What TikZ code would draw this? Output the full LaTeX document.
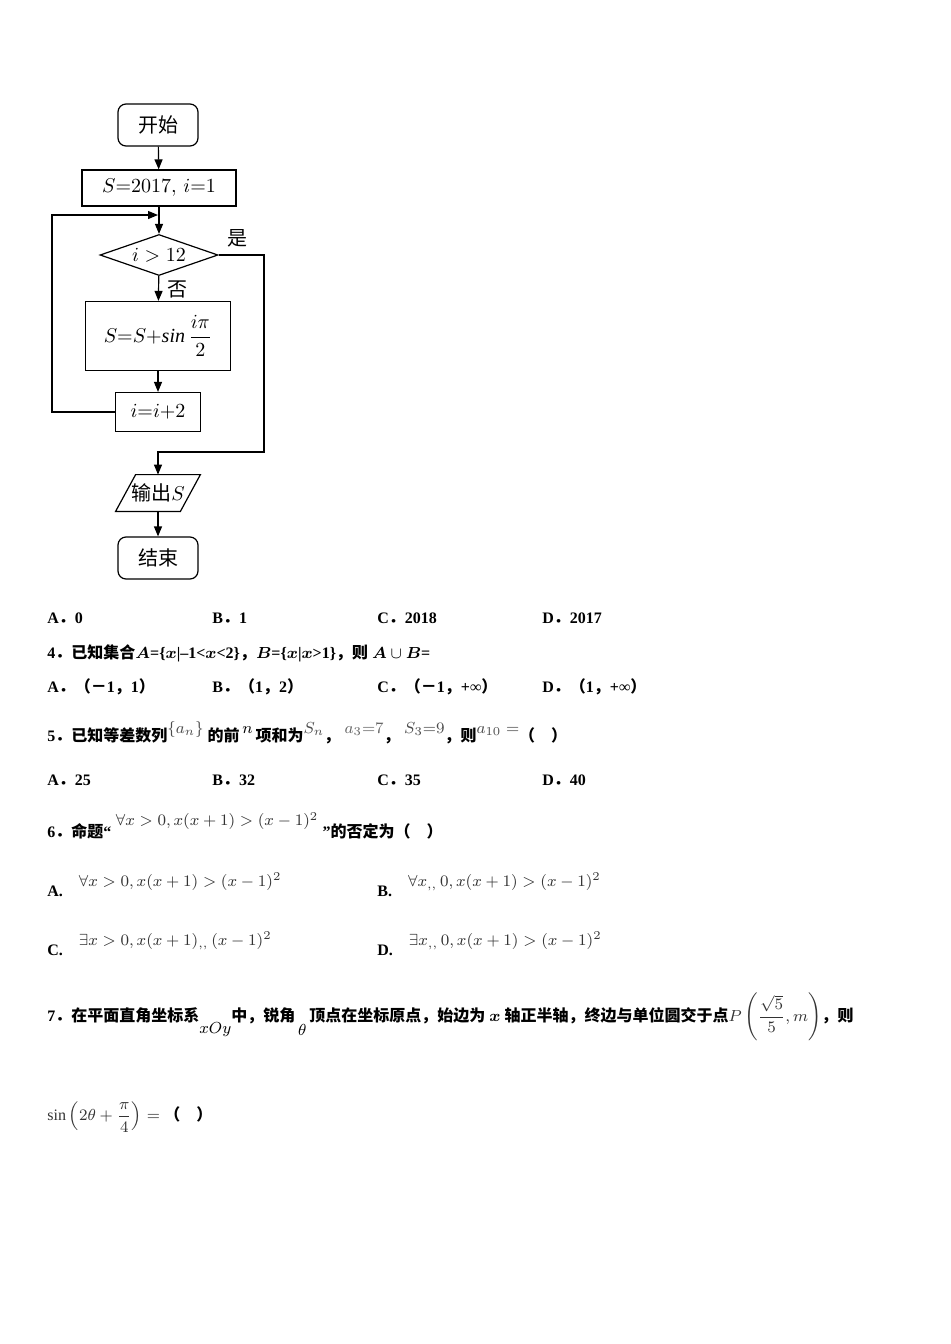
\documentclass[tikz,border=0pt]{standalone}
\usepackage{amsmath}
\usepackage{fontspec}
\setmainfont{Liberation Serif}
\newfontfamily\cjk{Noto Sans CJK SC}
\newfontfamily\cjkb{Noto Sans CJK SC Bold}
\usetikzlibrary{shapes.geometric,arrows.meta}
\newcommand{\C}[1]{{\cjkb #1}}
\begin{document}
\begin{tikzpicture}[x=0.5pt,y=-0.5pt,
  every node/.style={font=\fontsize{8}{9}\selectfont\bfseries, inner sep=0pt},
  box/.style={draw, line width=0.6pt, font=\fontsize{10}{11}\selectfont, minimum height=18pt},
  arr/.style={-{Triangle[length=5pt,width=4pt]}, line width=0.6pt},
  ln/.style={line width=0.6pt},
  q/.style={anchor=west}]
\useasboundingbox (0,0) rectangle (950,1344);
% flowchart
\node[box, rounded corners=4pt, minimum width=40pt, minimum height=21pt] (start) at (158,125) {\cjk 开始};
\node[box, minimum width=77pt] (init) at (159,188) {$S{=}2017,\,i{=}1$};
\node[draw, diamond, aspect=2.4, line width=0.6pt, minimum width=59pt, minimum height=20.5pt, font=\fontsize{10}{11}\selectfont] (cond) at (159,255) {$i>12$};
\node[box, minimum width=72.5pt, minimum height=34.5pt] (upd) at (158,336) {$S{=}S{+}\mathit{sin}\,\dfrac{i\pi}{2}$};
\node[box, minimum width=42.5pt, minimum height=19.5pt] (inc) at (158,412) {$i{=}i{+}2$};
\node[minimum width=42pt, minimum height=18pt, font=\fontsize{10}{11}\selectfont] (out) at (158,493) {{\cjk 输出}$S$};
\draw[ln] ([xshift=10pt]out.north west) -- (out.north east) -- ([xshift=-10pt]out.south east) -- (out.south west) -- cycle;
\node[box, rounded corners=4pt, minimum width=40pt, minimum height=21pt] (end) at (158,558) {\cjk 结束};
\coordinate (loop) at (158,215);
\draw[arr] (start) -- (init);
\draw[arr] (init) -- (cond);
\draw[arr] (cond) -- (upd);
\draw[arr] (upd) -- (inc);
\draw[arr] (inc.west) -- (52,412) -- (52,215) -- (loop);
\draw[arr] (cond.east) -- (264,255) -- (264,452) -- (158,452) -- (out);
\draw[arr] (out) -- (end);
\node[font=\fontsize{10}{11}\selectfont] (yes) at (237,238) {\cjk 是};
\node[font=\fontsize{10}{11}\selectfont] (no) at (177,289) {\cjk 否};
% options Q3
\node[q] (a3) at (47,618) {A\C{．}0};
\node[q] (b3) at (212,618) {B\C{．}1};
\node[q] (c3) at (377,618) {C\C{．}2018};
\node[q] (d3) at (542,618) {D\C{．}2017};
% Q4
\node[q] (q4) at (47,653) {4\C{．已知集合}$\boldsymbol{A}$=\{$\boldsymbol{x}$|–1<$\boldsymbol{x}$<2\}\C{，}$\boldsymbol{B}$=\{$\boldsymbol{x}$|$\boldsymbol{x}$>1\}\C{，则} $\boldsymbol{A}\cup\boldsymbol{B}$=};
\node[q] (a4) at (47,687) {A\C{．（－}1\C{，}1\C{）}};
\node[q] (b4) at (212,687) {B\C{．（}1\C{，}2\C{）}};
\node[q] (c4) at (377,687) {C\C{．（－}1\C{，}+∞\C{）}};
\node[q] (d4) at (542,687) {D\C{．（}1\C{，}+∞\C{）}};
% Q5
\node[q] (q5) at (47,733) {5\C{．已知等差数列}\raisebox{4pt}{\mdseries\color{black!70}$\{a_n\}$} \C{的前}\raisebox{4pt}{\mdseries$\,n\,$}\C{项和为}\raisebox{4pt}{\mdseries\color{black!70}$S_n$}\C{，}\;\raisebox{4pt}{\mdseries\color{black!60}$a_3{=}7$}\C{，}\;\raisebox{4pt}{\mdseries\color{black!70}$S_3{=}9$}\C{，则}\raisebox{4pt}{\mdseries\color{black!70}$a_{10}=$}\C{（\quad ）}};
\node[q] (a5) at (47,780) {A\C{．}25};
\node[q] (b5) at (212,780) {B\C{．}32};
\node[q] (c5) at (377,780) {C\C{．}35};
\node[q] (d5) at (542,780) {D\C{．}40};
% Q6
\node[q] (q6) at (47,826) {6\C{．命题}“\;\raisebox{6pt}{\mdseries\color{black!80}$\forall x>0,x(x+1)>(x-1)^2$}\;”\C{的否定为（\quad ）}};
\node[q] (a6) at (47,885) {A.\quad\raisebox{5pt}{\mdseries\color{black!80}$\forall x>0,x(x+1)>(x-1)^2$}};
\node[q] (b6) at (377,885) {B.\quad\raisebox{5pt}{\mdseries\color{black!80}$\forall x_{,,}\,0,x(x+1)>(x-1)^2$}};
\node[q] (c6) at (47,944) {C.\quad\raisebox{5pt}{\mdseries\color{black!80}$\exists x>0,x(x+1)_{,,}\,(x-1)^2$}};
\node[q] (d6) at (377,944) {D.\quad\raisebox{5pt}{\mdseries\color{black!80}$\exists x_{,,}\,0,x(x+1)>(x-1)^2$}};
% Q7
\node[q] (q7) at (47,1017) {7\C{．在平面直角坐标系}\raisebox{-6pt}{\mdseries$xOy$}\C{中，锐角}\raisebox{-7pt}{\mdseries$\,\theta\,$}\C{顶点在坐标原点，始边为} $\boldsymbol{x}$ \C{轴正半轴，终边与单位圆交于点}{\mdseries\color{black!80}$P\left(\dfrac{\sqrt5}{5},m\right)$}\C{，则}};
\node[q] (q7b) at (47,1117) {{\mdseries\color{black!80}$\sin\left(2\theta+\dfrac{\pi}{4}\right)=$}\;\C{（\quad ）}};
\end{tikzpicture}
\end{document}
